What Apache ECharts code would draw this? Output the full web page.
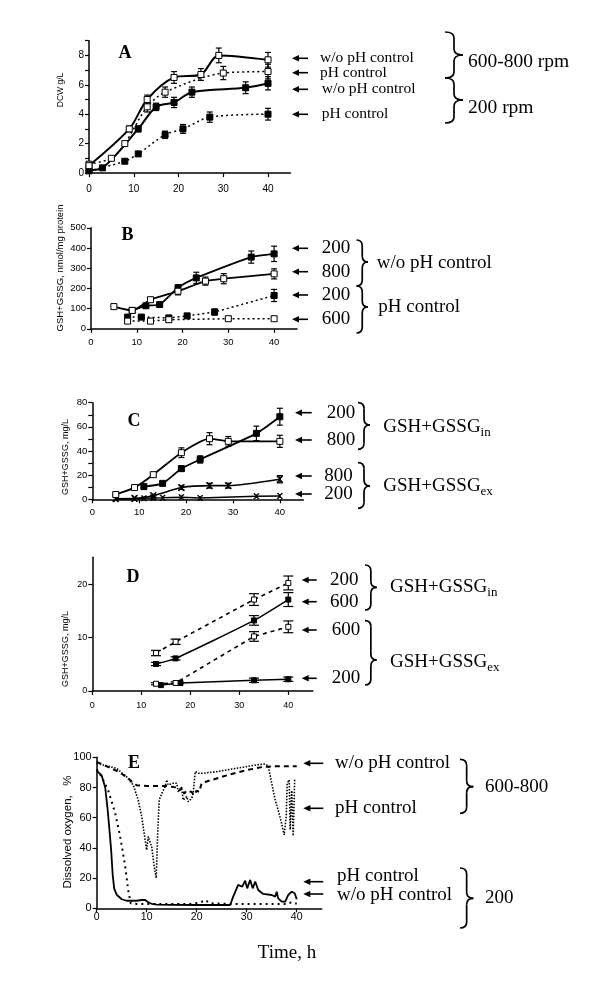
<!DOCTYPE html>
<html>
<head>
<meta charset="utf-8">
<script src="https://cdn.jsdelivr.net/npm/echarts@6/dist/echarts.min.js"></script>
<style>
  html, body { margin: 0; padding: 0; background: #fff; }
  #chart { width: 600px; height: 983px; }
</style>
</head>
<body>
<div id="chart"></div>
<script>
// ---- data (time h, value) ----
// A: DCW g/L
const aWoPh600 = [[0, 0.5], [9, 3.0], [13, 5.0], [19, 6.5], [25, 6.7], [29, 8.0], [40, 7.7]]
const aWoPh600Err = [0, 0.2, 0.3, 0.4, 0.4, 0.5, 0.5]
const aPh600 = [[0, 0.6], [5, 1.0], [8, 2.0], [13, 4.5], [17, 5.5], [30, 6.8], [40, 6.9]]
const aPh600Err = [0, 0, 0, 0.35, 0.35, 0.45, 0.5]
const aWoPh200 = [[0, 0.2], [3, 0.35], [11, 3.0], [15, 4.5], [19, 4.8], [23, 5.5], [35, 5.8], [40, 6.1]]
const aWoPh200Err = [0, 0, 0.2, 0.25, 0.35, 0.35, 0.4, 0.45]
const aPh200 = [[0, 0.15], [8, 0.8], [11, 1.3], [17, 2.6], [21, 3.0], [27, 3.8], [40, 4.0]]
const aPh200Err = [0, 0, 0, 0.25, 0.3, 0.35, 0.4]

// B: GSH+GSSG nmol/mg protein
const bWo200 = [[9, 91], [12, 114], [15, 120], [19, 203], [23, 252], [35, 355], [40, 371]]
const bWo200Err = [0, 8, 8, 15, 28, 30, 38]
const bWo800 = [[5, 110], [9, 91], [13, 144], [19, 186], [25, 236], [29, 248], [40, 272]]
const bWo800Err = [0, 0, 8, 18, 20, 25, 25]
const bPh200 = [[8, 58], [11, 58], [17, 54], [21, 64], [27, 83], [40, 165]]
const bPh200Err = [10, 8, 10, 8, 15, 30]
const bPh600 = [[8, 38], [13, 38], [17, 45], [30, 50], [40, 50]]
const bPh600Err = [10, 6, 10, 10, 10]

// C: GSH+GSSG mg/L
const cIn200 = [[11, 10.5], [15, 13.2], [19, 25.4], [23, 33], [35, 54.6], [40, 68.4]]
const cIn200Err = [1, 1, 2, 3, 6, 7]
const cIn800 = [[5, 4], [9, 9.7], [13, 20.4], [19, 38.6], [25, 50.2], [29, 48], [40, 48]]
const cIn800Err = [0, 0, 1, 4, 5, 4, 5]
const cEx800 = [[5, 0.5], [9, 0.8], [13, 3], [19, 9.7], [25, 11.3], [29, 11.3], [40, 16.6]]
const cEx800Err = [0, 0, 0.5, 1.5, 2, 2, 3]
const cEx200 = [[5, 0.3], [9, 0.5], [11, 0.8], [13, 1], [15, 1.2], [19, 1.8], [23, 1], [35, 2.6], [40, 2.8]]

// D: GSH+GSSG mg/L
const dIn200 = [[13, 7.1], [17, 9.2], [33, 17.1], [40, 20.2]]
const dIn200Err = [0.5, 0.5, 1.1, 1.3]
const dIn600 = [[13, 5.05], [17, 6.1], [33, 13.2], [40, 17.1]]
const dIn600Err = [0.3, 0.3, 0.9, 1.3]
const dEx600 = [[13, 1.35], [17, 1.5], [33, 10.2], [40, 12.0]]
const dEx600Err = [0.2, 0.2, 0.9, 1.1]
const dEx200 = [[14, 1.1], [18, 1.5], [33, 2.0], [40, 2.2]]
const dEx200Err = [0, 0, 0.4, 0.4]

// E: dissolved oxygen %
const eWoPh600 = [[0, 97], [2, 94], [4, 91], [6, 87], [7, 84], [8, 81.5], [10, 81], [12, 81], [14, 81],
  [15, 80.5], [16, 80], [16.5, 78], [17, 80], [17.5, 76], [18, 78], [19, 77], [19.5, 75], [20, 78],
  [20.5, 77], [21, 83], [22, 84], [24, 86], [27, 89], [30, 91.5], [33, 93.5], [35, 94], [38, 94], [40, 94]]
const ePh600 = [[0, 96], [4, 92.7], [6, 87], [7.3, 81.7], [8.3, 71.7], [9, 60.7], [9.7, 45], [10, 38.6],
  [10.3, 47.5], [10.7, 48.6], [11, 40.8], [11.5, 27.6], [11.9, 20], [12.2, 49.7], [12.5, 71.7], [13, 76],
  [13.3, 76], [13.7, 80.6], [14, 85], [14.3, 81.7], [15.3, 82.8], [16, 82.8], [16.3, 77.3], [17, 79.5],
  [17.3, 71.7], [18, 74], [18.3, 70.6], [19, 72.8], [19.3, 76], [19.7, 90.5], [20.3, 89.4], [21.3, 89.4],
  [24, 90.5], [28, 92.7], [32, 95], [33.7, 95.6], [34.3, 94.3], [35, 82.8], [35.7, 71.7], [36.3, 65],
  [37, 56], [37.5, 48.6], [37.9, 60.7], [38.1, 82.8], [38.5, 85], [38.7, 52], [39, 78], [39.3, 48], [39.6, 86]]
const eWoPh200 = [[0, 92], [1, 87], [2.3, 78], [3.7, 63], [4.7, 47.5], [5.7, 27.6], [6.3, 12], [6.8, 3.3],
  [8, 2.9], [13, 2.9], [18.7, 2.9], [20.7, 3.8], [21.7, 5.5], [22.7, 3.3], [26.7, 2.9], [33.3, 2.9],
  [38, 2.9], [39, 4], [40, 3]]
const ePh200 = [[0, 91], [1, 88], [1.7, 80], [2.2, 65], [2.6, 50], [2.9, 38], [3.2, 22], [3.5, 13], [4, 9],
  [5, 6], [6, 5], [8, 5], [9, 5.5], [9.7, 5.5], [10.3, 4], [11, 3], [12, 2.5], [15, 2.3], [20, 2.2],
  [26.7, 2.2], [27.3, 7.7], [28.3, 15.5], [28.7, 16.6], [29.1, 14.3], [29.7, 18.3], [30.1, 13.2],
  [30.7, 18.8], [31.2, 13.2], [31.7, 17.7], [32.3, 12.1], [33.3, 9.5], [35, 8.8], [35.7, 7.7], [36, 11],
  [36.3, 6.6], [37, 4.4], [37.7, 4.4], [38.3, 8.8], [39, 11], [39.6, 10], [40, 6]]

const xTickVals = [0, 10, 20, 30, 40]

const SERIF = '"Liberation Serif", "DejaVu Serif", serif'
const SANS = '"Liberation Sans", Arial, sans-serif'
const CROSS = 'path://M0,0L2,0L5,3L8,0L10,0L6,4L6,6L10,10L8,10L5,7L2,10L0,10L4,6L4,4Z'

const chart = echarts.init(document.getElementById('chart'), null, { renderer: 'canvas' })

function xAx (gi, labelSize, margin) {
  return {
    type: 'value', gridIndex: gi, min: 0, max: 45, interval: 10,
    axisLine: { show: true, onZero: false, lineStyle: { color: '#000', width: 1.5 } },
    axisTick: { show: true, length: 4, customValues: xTickVals, lineStyle: { color: '#000', width: 1.2 } },
    axisLabel: { customValues: xTickVals, color: '#000', fontSize: labelSize, fontFamily: SANS, margin },
    splitLine: { show: false }
  }
}

function yAx (gi, max, interval, labels, ticks, labelSize) {
  const ax = {
    type: 'value', gridIndex: gi, min: 0, max, interval,
    axisLine: { show: true, onZero: false, lineStyle: { color: '#000', width: 1.5 } },
    axisTick: { show: true, length: 4, lineStyle: { color: '#000', width: 1.2 } },
    axisLabel: { color: '#000', fontSize: labelSize, fontFamily: SANS, margin: 5 },
    splitLine: { show: false }
  }
  if (labels) ax.axisLabel.customValues = labels
  if (ticks) ax.axisTick.customValues = ticks
  return ax
}

function line (gi, data, open, opts) {
  return Object.assign({
    type: 'line', xAxisIndex: gi, yAxisIndex: gi, data,
    symbol: 'rect', symbolSize: 6, showAllSymbol: true,
    lineStyle: { color: '#000', width: 1.8 },
    itemStyle: { color: open ? '#fff' : '#000', borderColor: '#000', borderWidth: 1 },
    emphasis: { disabled: true }, silent: true, animation: false, z: 3
  }, opts || {})
}

function errBars (gi, pts, errs, cap) {
  const data = pts.map((p, i) => [p[0], p[1], errs[i]]).filter(d => d[2] > 0)
  return {
    type: 'custom', xAxisIndex: gi, yAxisIndex: gi, data, silent: true, animation: false, z: 2,
    renderItem: function (params, api) {
      const x = api.value(0)
      const y = api.value(1)
      const e = api.value(2)
      const top = api.coord([x, y + e])
      const bot = api.coord([x, y - e])
      const st = { stroke: '#000', lineWidth: 1.2 }
      return {
        type: 'group',
        children: [
          { type: 'line', shape: { x1: top[0], y1: top[1], x2: bot[0], y2: bot[1] }, style: st },
          { type: 'line', shape: { x1: top[0] - cap, y1: top[1], x2: top[0] + cap, y2: top[1] }, style: st },
          { type: 'line', shape: { x1: bot[0] - cap, y1: bot[1], x2: bot[0] + cap, y2: bot[1] }, style: st }
        ]
      }
    }
  }
}

// ---- annotation helpers ----
function txt (x, y, text, size, opts) {
  return {
    type: 'text', x, y, silent: true,
    style: Object.assign({
      text, fill: '#000', fontSize: size, fontFamily: SERIF,
      textAlign: 'left', textVerticalAlign: 'middle', align: 'left', verticalAlign: 'middle'
    }, opts || {})
  }
}
function yTitle (x, y, text, size) {
  return {
    type: 'text', x, y, rotation: Math.PI / 2, silent: true,
    style: {
      text, fill: '#000', fontSize: size, fontFamily: SANS,
      textAlign: 'center', textVerticalAlign: 'middle', align: 'center', verticalAlign: 'middle'
    }
  }
}
function panelLabel (x, y, t) {
  return txt(x, y, t, 18, { fontWeight: 'bold', textAlign: 'center', align: 'center' })
}
function arrow (x1, x2, y) {
  return [
    { type: 'line', silent: true, shape: { x1: x1 + 4, y1: y, x2, y2: y }, style: { stroke: '#000', lineWidth: 1.6 } },
    { type: 'polygon', silent: true, shape: { points: [[x1, y], [x1 + 7, y - 3.2], [x1 + 7, y + 3.2]] }, style: { fill: '#000' } }
  ]
}
function brace (xl, xr, y0, ym, y1) {
  const xm = (xl + xr) / 2
  const r = 6
  const st = { stroke: '#000', lineWidth: 1.7, fill: null }
  const bez = (x1, y1, x2, y2, cx, cy) => ({ type: 'bezierCurve', silent: true, shape: { x1, y1, x2, y2, cpx1: cx, cpy1: cy }, style: st })
  const seg = (x1, y1, x2, y2) => ({ type: 'line', silent: true, shape: { x1, y1, x2, y2 }, style: st })
  return [
    bez(xl, y0, xm, y0 + r, xm, y0),
    seg(xm, y0 + r, xm, ym - r),
    bez(xm, ym - r, xr, ym, xm, ym),
    bez(xr, ym, xm, ym + r, xm, ym),
    seg(xm, ym + r, xm, y1 - r),
    bez(xm, y1 - r, xl, y1, xm, y1)
  ]
}
function gsh (x, y, sub) {
  return {
    type: 'text', x, y, silent: true,
    style: {
      text: '{m|GSH+GSSG}{s|' + sub + '}',
      textAlign: 'left', textVerticalAlign: 'middle', align: 'left', verticalAlign: 'middle',
      rich: {
        m: { fontSize: 19, fontFamily: SERIF, fill: '#000', lineHeight: 24, verticalAlign: 'middle' },
        s: { fontSize: 13, fontFamily: SERIF, fill: '#000', lineHeight: 24, verticalAlign: 'bottom' }
      }
    }
  }
}

const elements = [
  panelLabel(125, 53, 'A'), panelLabel(127.5, 235, 'B'), panelLabel(134, 421, 'C'),
  panelLabel(133, 577, 'D'), panelLabel(134, 763, 'E'),
  yTitle(60.5, 90, 'DCW g/L', 8.5),
  yTitle(60, 268, 'GSH+GSSG, nmol/mg protein', 9.5),
  yTitle(66, 457, 'GSH+GSSG, mg/L', 9),
  yTitle(66, 649, 'GSH+GSSG, mg/L', 9),
  yTitle(68, 832, 'Dissolved oxygen,   %', 11.5),
  txt(287, 953, 'Time, h', 19, { textAlign: 'center', align: 'center' }),

  // A
  ...arrow(292, 308, 58.3), ...arrow(292, 308, 72.7), ...arrow(292, 308, 89.3), ...arrow(292, 308, 114.3),
  txt(320, 58, 'w/o pH control', 15.5), txt(320, 72.7, 'pH control', 15.5),
  txt(321.7, 89.3, 'w/o pH control', 15.5), txt(321.7, 114.3, 'pH control', 15.5),
  ...brace(445, 463, 32, 55, 78), ...brace(445, 463, 78, 100, 123),
  txt(468, 62, '600-800 rpm', 19.5), txt(468, 108, '200 rpm', 19.5),

  // B
  ...arrow(292, 308, 248.3), ...arrow(292, 308, 271.7), ...arrow(292, 308, 295), ...arrow(292, 308, 319.3),
  txt(321.7, 248.3, '200', 19), txt(321.7, 271.7, '800', 19), txt(321.7, 295, '200', 19), txt(321.7, 319.3, '600', 19),
  ...brace(356.5, 368, 240, 262, 286), ...brace(356.5, 368, 286, 307, 333),
  txt(376.7, 263.3, 'w/o pH control', 19), txt(378.3, 306.7, 'pH control', 19),

  // C
  ...arrow(295, 311.7, 412.7), ...arrow(295, 311.7, 440), ...arrow(295, 311.7, 476), ...arrow(295, 311.7, 494),
  txt(326.7, 412.7, '200', 19), txt(326.7, 440, '800', 19), txt(324.3, 476, '800', 19), txt(324.3, 494, '200', 19),
  ...brace(358, 370, 402.7, 425, 449.3), ...brace(358, 370, 462.7, 486, 508.3),
  gsh(383.3, 426.7, 'in'), gsh(383.3, 486, 'ex'),

  // D
  ...arrow(301.7, 316.7, 580), ...arrow(301.7, 316.7, 601.7), ...arrow(301.7, 316.7, 630), ...arrow(301.7, 316.7, 678.3),
  txt(330, 580, '200', 19), txt(330, 601.7, '600', 19), txt(331.7, 630, '600', 19), txt(331.7, 678.3, '200', 19),
  ...brace(365, 376.7, 565, 587.3, 610), ...brace(365, 376.7, 620.7, 660, 685),
  gsh(390, 587.3, 'in'), gsh(390, 662, 'ex'),

  // E
  ...arrow(303.3, 323.3, 763.3), ...arrow(303.3, 323.3, 808.3), ...arrow(303.3, 323.3, 881.7), ...arrow(303.3, 323.3, 894),
  txt(335, 763.3, 'w/o pH control', 19), txt(335, 808.3, 'pH control', 19),
  txt(337, 876, 'pH control', 19), txt(337, 895, 'w/o pH control', 19),
  ...brace(460, 473.3, 759.3, 786.7, 813.3), ...brace(460, 473.3, 868, 898.3, 928),
  txt(485, 786.7, '600-800', 19), txt(485, 898.3, '200', 19)
]

const dotA = { color: '#000', width: 1.5, type: [2, 3] }
const dashD = { color: '#000', width: 1.6, type: [4, 4] }

const option = {
  backgroundColor: '#fff',
  animation: false,
  grid: [
    { left: 89, top: 40.7, width: 201.4, height: 132.3 },
    { left: 91, top: 227.8, width: 206, height: 101 },
    { left: 92.3, top: 402.7, width: 211, height: 96.6 },
    { left: 92.3, top: 557.3, width: 220.5, height: 133.7 },
    { left: 96.7, top: 757.3, width: 225, height: 151 }
  ],
  xAxis: [xAx(0, 10, 11), xAx(1, 9.5, 9), xAx(2, 9.5, 8), xAx(3, 9, 10), xAx(4, 10.5, 3)],
  yAxis: [
    yAx(0, 9, 1, [0, 2, 4, 6, 8], null, 10),
    yAx(1, 500, 100, null, null, 9.5),
    yAx(2, 80, 10, [0, 20, 40, 60, 80], null, 9.5),
    yAx(3, 25, 5, [0, 10, 20], [0, 10, 20], 9),
    yAx(4, 100, 20, null, null, 11)
  ],
  graphic: { elements },
  series: [
    // A
    errBars(0, aWoPh600, aWoPh600Err, 3), errBars(0, aPh600, aPh600Err, 3),
    errBars(0, aWoPh200, aWoPh200Err, 3), errBars(0, aPh200, aPh200Err, 3),
    line(0, aPh200, false, { smooth: 0.3, lineStyle: dotA }),
    line(0, aPh600, true, { smooth: 0.3, lineStyle: dotA }),
    line(0, aWoPh200, false, { smooth: 0.3, lineStyle: { color: '#000', width: 2 } }),
    line(0, aWoPh600, true, { smooth: 0.3, lineStyle: { color: '#000', width: 2 } }),
    // B
    errBars(1, bWo200, bWo200Err, 3), errBars(1, bWo800, bWo800Err, 3),
    errBars(1, bPh200, bPh200Err, 3), errBars(1, bPh600, bPh600Err, 3),
    line(1, bPh200, false, { lineStyle: dotA }),
    line(1, bPh600, true, { lineStyle: dotA }),
    line(1, bWo200, false, { smooth: 0.2, lineStyle: { color: '#000', width: 1.8 } }),
    line(1, bWo800, true, { smooth: 0.2, lineStyle: { color: '#000', width: 1.8 } }),
    // C
    errBars(2, cIn200, cIn200Err, 3), errBars(2, cIn800, cIn800Err, 3), errBars(2, cEx800, cEx800Err, 3),
    line(2, cEx200, false, { symbol: CROSS, symbolSize: 5, lineStyle: { color: '#000', width: 1.5 } }),
    line(2, cEx800, false, { symbol: CROSS, symbolSize: 6, smooth: 0.2, lineStyle: { color: '#000', width: 1.6 } }),
    line(2, cIn200, false, { smooth: 0.2, lineStyle: { color: '#000', width: 1.8 } }),
    line(2, cIn800, true, { smooth: 0.2, lineStyle: { color: '#000', width: 1.8 } }),
    // D
    errBars(3, dIn200, dIn200Err, 5), errBars(3, dIn600, dIn600Err, 5),
    errBars(3, dEx600, dEx600Err, 5), errBars(3, dEx200, dEx200Err, 5),
    line(3, dEx200, false, { symbolSize: 5, lineStyle: { color: '#000', width: 1.5 } }),
    line(3, dEx600, true, { symbolSize: 5, lineStyle: dashD }),
    line(3, dIn600, false, { symbolSize: 5, smooth: 0.2, lineStyle: { color: '#000', width: 1.5 } }),
    line(3, dIn200, true, { symbolSize: 5, lineStyle: dashD }),
    // E
    line(4, eWoPh600, false, { symbol: 'none', lineStyle: { color: '#000', width: 2, type: [5, 4] } }),
    line(4, ePh600, false, { symbol: 'none', lineStyle: { color: '#000', width: 1.6, type: [1.5, 1.5] } }),
    line(4, eWoPh200, false, { symbol: 'none', lineStyle: { color: '#000', width: 2, type: [2, 4] } }),
    line(4, ePh200, false, { symbol: 'none', lineStyle: { color: '#000', width: 1.8 } })
  ]
}

chart.setOption(option)
</script>
</body>
</html>
